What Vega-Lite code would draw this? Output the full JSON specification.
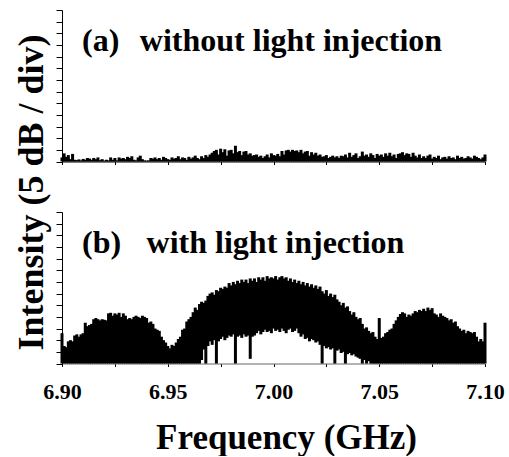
{
"$schema": "https://vega.github.io/schema/vega-lite/v6.json",
"background": "white",
"padding": {"left": 12, "top": 9, "right": 2, "bottom": 0},
"spacing": 50,
"bounds": "flush",
"config": {
 "view": {"stroke": null},
 "font": "Liberation Serif",
 "axis": {"grid": false, "domainColor": "black", "tickColor": "black", "labelColor": "black", "titleColor": "black", "labelFont": "Liberation Serif", "labelFontWeight": "bold", "labelFontSize": 22, "titleFont": "Liberation Serif", "titleFontWeight": "bold", "titleFontSize": 36}
},
"vconcat": [
 {
  "width": 423, "height": 151.5,
  "resolve": {"axis": {"x": "independent", "y": "independent"}},
  "layer": [
   {"data": {"name": "a"},
    "mark": {"type": "rule", "color": "black", "strokeWidth": 3},
    "encoding": {
     "x": {"field": "f", "type": "quantitative", "scale": {"domain": [6.9, 7.1], "nice": false, "zero": false},
      "axis": {"values": [6.9, 6.925, 6.95, 6.975, 7.0, 7.025, 7.05, 7.075, 7.1], "labels": false, "title": null, "tickSize": 3, "domainColor": "black"}},
     "y": {"field": "v", "type": "quantitative", "scale": {"domain": [0, 13], "nice": false},
      "axis": {"values": [0,1,2,3,4,5,6,7,8,9,10,11,12,13], "labels": false, "tickSize": 6, "title": "Intensity (5 dB / div)", "titleAngle": 270, "titleX": -20, "titleY": 182, "titleAlign": "center", "titleBaseline": "alphabetic"}},
     "y2": {"datum": 0}
    }},
   {"data": {"values": [{}]},
    "mark": {"type": "text", "text": "(a)", "align": "left", "baseline": "alphabetic", "font": "Liberation Serif", "fontWeight": "bold", "fontSize": 32, "color": "black"},
    "encoding": {"x": {"datum": 6.9095, "type": "quantitative", "axis": null}, "y": {"datum": 9.45, "type": "quantitative", "axis": null}}},
   {"data": {"values": [{}]},
    "mark": {"type": "text", "text": "without light injection", "align": "left", "baseline": "alphabetic", "font": "Liberation Serif", "fontWeight": "bold", "fontSize": 32, "color": "black"},
    "encoding": {"x": {"datum": 6.9368, "type": "quantitative", "axis": null}, "y": {"datum": 9.45, "type": "quantitative", "axis": null}}}
  ]
 },
 {
  "width": 423, "height": 151.5,
  "resolve": {"axis": {"x": "independent", "y": "independent"}},
  "layer": [
   {"data": {"name": "b"},
    "mark": {"type": "rule", "color": "black", "strokeWidth": 3},
    "encoding": {
     "x": {"field": "f", "type": "quantitative", "scale": {"domain": [6.9, 7.1], "nice": false, "zero": false},
      "axis": {"values": [6.9, 6.925, 6.95, 6.975, 7.0, 7.025, 7.05, 7.075, 7.1], "labelExpr": "abs(datum.value*20 - round(datum.value*20)) < 0.01 ? format(datum.value, '.2f') : ''", "labelFlush": false, "labelOverlap": false, "labelPadding": 15, "tickSize": 3, "domainColor": "#666666", "title": "Frequency (GHz)", "titleFontSize": 35, "titleX": 224, "titleY": 85, "titleAlign": "center", "titleBaseline": "alphabetic"}},
     "y": {"field": "v", "type": "quantitative", "scale": {"domain": [0, 13], "nice": false},
      "axis": {"values": [0,1,2,3,4,5,6,7,8,9,10,11,12,13], "labels": false, "tickSize": 6, "title": null}},
     "y2": {"field": "l"}
    }},
   {"data": {"values": [{}]},
    "mark": {"type": "text", "text": "(b)", "align": "left", "baseline": "alphabetic", "font": "Liberation Serif", "fontWeight": "bold", "fontSize": 32, "color": "black"},
    "encoding": {"x": {"datum": 6.9095, "type": "quantitative", "axis": null}, "y": {"datum": 9.45, "type": "quantitative", "axis": null}}},
   {"data": {"values": [{}]},
    "mark": {"type": "text", "text": "with light injection", "align": "left", "baseline": "alphabetic", "font": "Liberation Serif", "fontWeight": "bold", "fontSize": 32, "color": "black"},
    "encoding": {"x": {"datum": 6.9400, "type": "quantitative", "axis": null}, "y": {"datum": 9.45, "type": "quantitative", "axis": null}}}
  ]
 }
],
"datasets": {
 "a": [
{"f":6.900,"v":0.35},{"f":6.901,"v":0.7},{"f":6.902,"v":0.4},{"f":6.903,"v":0.55},{"f":6.904,"v":0.2},{"f":6.905,"v":0.65},{"f":6.906,"v":0.15},{"f":6.907,"v":0.12},{"f":6.908,"v":0.18},{"f":6.909,"v":0.1},
{"f":6.910,"v":0.22},{"f":6.911,"v":0.15},{"f":6.912,"v":0.3},{"f":6.913,"v":0.25},{"f":6.914,"v":0.15},{"f":6.915,"v":0.3},{"f":6.916,"v":0.2},{"f":6.917,"v":0.35},{"f":6.918,"v":0.12},{"f":6.919,"v":0.2},
{"f":6.920,"v":0.08},{"f":6.921,"v":0.15},{"f":6.922,"v":0.1},{"f":6.923,"v":0.35},{"f":6.924,"v":0.15},{"f":6.925,"v":0.3},{"f":6.926,"v":0.1},{"f":6.927,"v":0.35},{"f":6.928,"v":0.25},{"f":6.929,"v":0.3},
{"f":6.930,"v":0.2},{"f":6.931,"v":0.4},{"f":6.932,"v":0.3},{"f":6.933,"v":0.45},{"f":6.934,"v":0.15},{"f":6.935,"v":0.1},{"f":6.936,"v":0.35},{"f":6.937,"v":0.5},{"f":6.938,"v":0.2},{"f":6.939,"v":0.1},
{"f":6.940,"v":0.08},{"f":6.941,"v":0.1},{"f":6.942,"v":0.3},{"f":6.943,"v":0.25},{"f":6.944,"v":0.35},{"f":6.945,"v":0.2},{"f":6.946,"v":0.3},{"f":6.947,"v":0.15},{"f":6.948,"v":0.4},{"f":6.949,"v":0.3},
{"f":6.950,"v":0.2},{"f":6.951,"v":0.15},{"f":6.952,"v":0.35},{"f":6.953,"v":0.25},{"f":6.954,"v":0.3},{"f":6.955,"v":0.45},{"f":6.956,"v":0.2},{"f":6.957,"v":0.35},{"f":6.958,"v":0.3},{"f":6.959,"v":0.15},
{"f":6.960,"v":0.4},{"f":6.961,"v":0.25},{"f":6.962,"v":0.35},{"f":6.963,"v":0.5},{"f":6.964,"v":0.3},{"f":6.965,"v":0.2},{"f":6.966,"v":0.45},{"f":6.967,"v":0.3},{"f":6.968,"v":0.55},{"f":6.969,"v":0.4},
{"f":6.970,"v":0.6},{"f":6.971,"v":0.75},{"f":6.972,"v":0.9},{"f":6.973,"v":1.0},{"f":6.974,"v":0.6},{"f":6.975,"v":1.1},{"f":6.976,"v":0.8},{"f":6.977,"v":1.05},{"f":6.978,"v":0.5},{"f":6.979,"v":0.95},
{"f":6.980,"v":1.0},{"f":6.981,"v":0.7},{"f":6.982,"v":1.35},{"f":6.983,"v":0.8},{"f":6.984,"v":0.9},{"f":6.985,"v":0.55},{"f":6.986,"v":0.85},{"f":6.987,"v":0.9},{"f":6.988,"v":0.6},{"f":6.989,"v":0.7},
{"f":6.990,"v":0.5},{"f":6.991,"v":0.55},{"f":6.992,"v":0.6},{"f":6.993,"v":0.4},{"f":6.994,"v":0.5},{"f":6.995,"v":0.3},{"f":6.996,"v":0.45},{"f":6.997,"v":0.6},{"f":6.998,"v":0.35},{"f":6.999,"v":0.7},
{"f":7.000,"v":0.55},{"f":7.001,"v":0.5},{"f":7.002,"v":0.65},{"f":7.003,"v":0.45},{"f":7.004,"v":0.9},{"f":7.005,"v":0.6},{"f":7.006,"v":0.95},{"f":7.007,"v":1.0},{"f":7.008,"v":0.85},{"f":7.009,"v":1.0},
{"f":7.010,"v":0.9},{"f":7.011,"v":0.95},{"f":7.012,"v":0.8},{"f":7.013,"v":1.0},{"f":7.014,"v":0.7},{"f":7.015,"v":0.85},{"f":7.016,"v":0.9},{"f":7.017,"v":0.5},{"f":7.018,"v":0.8},{"f":7.019,"v":0.6},
{"f":7.020,"v":0.75},{"f":7.021,"v":0.5},{"f":7.022,"v":0.6},{"f":7.023,"v":0.4},{"f":7.024,"v":0.45},{"f":7.025,"v":0.55},{"f":7.026,"v":0.3},{"f":7.027,"v":0.4},{"f":7.028,"v":0.5},{"f":7.029,"v":0.35},
{"f":7.030,"v":0.45},{"f":7.031,"v":0.3},{"f":7.032,"v":0.5},{"f":7.033,"v":0.45},{"f":7.034,"v":0.6},{"f":7.035,"v":0.35},{"f":7.036,"v":0.75},{"f":7.037,"v":0.4},{"f":7.038,"v":0.55},{"f":7.039,"v":0.7},
{"f":7.040,"v":0.3},{"f":7.041,"v":0.45},{"f":7.042,"v":0.85},{"f":7.043,"v":0.5},{"f":7.044,"v":0.6},{"f":7.045,"v":0.4},{"f":7.046,"v":0.7},{"f":7.047,"v":0.55},{"f":7.048,"v":0.3},{"f":7.049,"v":0.65},
{"f":7.050,"v":0.5},{"f":7.051,"v":0.6},{"f":7.052,"v":0.4},{"f":7.053,"v":0.7},{"f":7.054,"v":0.5},{"f":7.055,"v":0.75},{"f":7.056,"v":0.45},{"f":7.057,"v":0.6},{"f":7.058,"v":0.3},{"f":7.059,"v":0.65},
{"f":7.060,"v":0.7},{"f":7.061,"v":0.8},{"f":7.062,"v":0.55},{"f":7.063,"v":0.7},{"f":7.064,"v":0.65},{"f":7.065,"v":0.4},{"f":7.066,"v":0.75},{"f":7.067,"v":0.5},{"f":7.068,"v":0.35},{"f":7.069,"v":0.6},
{"f":7.070,"v":0.3},{"f":7.071,"v":0.45},{"f":7.072,"v":0.3},{"f":7.073,"v":0.5},{"f":7.074,"v":0.6},{"f":7.075,"v":0.25},{"f":7.076,"v":0.4},{"f":7.077,"v":0.3},{"f":7.078,"v":0.5},{"f":7.079,"v":0.2},
{"f":7.080,"v":0.35},{"f":7.081,"v":0.4},{"f":7.082,"v":0.25},{"f":7.083,"v":0.45},{"f":7.084,"v":0.3},{"f":7.085,"v":0.35},{"f":7.086,"v":0.2},{"f":7.087,"v":0.5},{"f":7.088,"v":0.3},{"f":7.089,"v":0.4},
{"f":7.090,"v":0.25},{"f":7.091,"v":0.3},{"f":7.092,"v":0.45},{"f":7.093,"v":0.35},{"f":7.094,"v":0.25},{"f":7.095,"v":0.5},{"f":7.096,"v":0.4},{"f":7.097,"v":0.3},{"f":7.098,"v":0.2},{"f":7.099,"v":0.35},
{"f":7.100,"v":0.6}
 ],
 "b": [
{"f":6.900,"v":2.6,"l":0},{"f":6.901,"v":1.5,"l":0},{"f":6.902,"v":1.4,"l":0},{"f":6.903,"v":1.9,"l":0},{"f":6.904,"v":2.0,"l":0},{"f":6.905,"v":1.9,"l":0},{"f":6.906,"v":2.4,"l":0},{"f":6.907,"v":2.5,"l":0},{"f":6.908,"v":2.3,"l":0},{"f":6.909,"v":2.5,"l":0},
{"f":6.910,"v":2.6,"l":0},{"f":6.911,"v":3.5,"l":0},{"f":6.912,"v":3.2,"l":0},{"f":6.913,"v":3.3,"l":0},{"f":6.914,"v":3.4,"l":0},{"f":6.915,"v":3.8,"l":0},{"f":6.916,"v":3.9,"l":0},{"f":6.917,"v":3.8,"l":0},{"f":6.918,"v":3.7,"l":0},{"f":6.919,"v":3.8,"l":0},
{"f":6.920,"v":3.75,"l":0},{"f":6.921,"v":3.7,"l":0},{"f":6.922,"v":4.3,"l":0},{"f":6.923,"v":4.35,"l":0},{"f":6.924,"v":4.1,"l":0},{"f":6.925,"v":4.3,"l":0},{"f":6.926,"v":4.2,"l":0},{"f":6.927,"v":4.35,"l":0},{"f":6.928,"v":4.0,"l":0},{"f":6.929,"v":4.3,"l":0},
{"f":6.930,"v":4.1,"l":0},{"f":6.931,"v":3.8,"l":0},{"f":6.932,"v":3.9,"l":0},{"f":6.933,"v":3.8,"l":0},{"f":6.934,"v":4.0,"l":0},{"f":6.935,"v":4.1,"l":0},{"f":6.936,"v":4.0,"l":0},{"f":6.937,"v":3.9,"l":0},{"f":6.938,"v":4.1,"l":0},{"f":6.939,"v":4.0,"l":0},
{"f":6.940,"v":3.9,"l":0},{"f":6.941,"v":3.5,"l":0},{"f":6.942,"v":3.6,"l":0},{"f":6.943,"v":3.4,"l":0},{"f":6.944,"v":3.0,"l":0},{"f":6.945,"v":2.9,"l":0},{"f":6.946,"v":2.8,"l":0},{"f":6.947,"v":2.3,"l":0},{"f":6.948,"v":2.0,"l":0},{"f":6.949,"v":1.8,"l":0},
{"f":6.950,"v":1.5,"l":0},{"f":6.951,"v":1.3,"l":0},{"f":6.952,"v":1.6,"l":0},{"f":6.953,"v":1.5,"l":0},{"f":6.954,"v":1.8,"l":0},{"f":6.955,"v":2.1,"l":0},{"f":6.956,"v":2.3,"l":0},{"f":6.957,"v":2.9,"l":0},{"f":6.958,"v":3.0,"l":0},{"f":6.959,"v":3.6,"l":0},
{"f":6.960,"v":3.8,"l":0},{"f":6.961,"v":4.0,"l":0},{"f":6.962,"v":4.4,"l":0},{"f":6.963,"v":4.8,"l":0},{"f":6.964,"v":4.6,"l":0},{"f":6.965,"v":5.1,"l":0},{"f":6.966,"v":5.3,"l":0.3},{"f":6.967,"v":5.2,"l":1.2},{"f":6.968,"v":5.4,"l":0},{"f":6.969,"v":5.8,"l":1.5},
{"f":6.970,"v":6.0,"l":1.9},{"f":6.971,"v":6.1,"l":1.6},{"f":6.972,"v":5.9,"l":2.0},{"f":6.973,"v":6.3,"l":0},{"f":6.974,"v":6.2,"l":1.9},{"f":6.975,"v":6.5,"l":2.1},{"f":6.976,"v":6.4,"l":2.3},{"f":6.977,"v":6.6,"l":2.0},{"f":6.978,"v":6.5,"l":2.2},{"f":6.979,"v":6.9,"l":2.4},
{"f":6.980,"v":6.7,"l":2.3},{"f":6.981,"v":7.0,"l":2.5},{"f":6.982,"v":6.8,"l":0},{"f":6.983,"v":7.1,"l":2.3},{"f":6.984,"v":6.9,"l":2.4},{"f":6.985,"v":7.2,"l":2.2},{"f":6.986,"v":7.0,"l":2.5},{"f":6.987,"v":7.2,"l":2.3},{"f":6.988,"v":6.9,"l":2.4},{"f":6.989,"v":7.3,"l":0.4},
{"f":6.990,"v":7.1,"l":2.3},{"f":6.991,"v":7.3,"l":2.4},{"f":6.992,"v":7.0,"l":2.6},{"f":6.993,"v":7.4,"l":2.8},{"f":6.994,"v":7.2,"l":2.5},{"f":6.995,"v":7.4,"l":2.7},{"f":6.996,"v":7.1,"l":2.9},{"f":6.997,"v":7.5,"l":2.7},{"f":6.998,"v":7.3,"l":2.8},{"f":6.999,"v":7.4,"l":2.6},
{"f":7.000,"v":7.3,"l":3.0},{"f":7.001,"v":7.5,"l":2.8},{"f":7.002,"v":7.2,"l":2.9},{"f":7.003,"v":7.4,"l":2.7},{"f":7.004,"v":7.5,"l":3.0},{"f":7.005,"v":7.3,"l":2.8},{"f":7.006,"v":7.4,"l":2.6},{"f":7.007,"v":7.1,"l":2.9},{"f":7.008,"v":7.3,"l":3.0},{"f":7.009,"v":7.0,"l":2.7},
{"f":7.010,"v":7.2,"l":2.8},{"f":7.011,"v":6.9,"l":3.0},{"f":7.012,"v":7.1,"l":2.6},{"f":7.013,"v":6.8,"l":2.3},{"f":7.014,"v":7.0,"l":2.5},{"f":7.015,"v":6.7,"l":2.1},{"f":7.016,"v":6.9,"l":2.2},{"f":7.017,"v":6.6,"l":1.9},{"f":7.018,"v":6.8,"l":2.1},{"f":7.019,"v":6.5,"l":2.0},
{"f":7.020,"v":6.7,"l":1.8},{"f":7.021,"v":6.4,"l":1.9},{"f":7.022,"v":6.6,"l":1.6},{"f":7.023,"v":6.2,"l":0},{"f":7.024,"v":6.0,"l":1.5},{"f":7.025,"v":6.3,"l":1.3},{"f":7.026,"v":5.8,"l":1.4},{"f":7.027,"v":6.0,"l":1.2},{"f":7.028,"v":5.7,"l":1.3},{"f":7.029,"v":5.9,"l":0},
{"f":7.030,"v":5.5,"l":1.1},{"f":7.031,"v":5.3,"l":1.2},{"f":7.032,"v":5.0,"l":0.9},{"f":7.033,"v":5.2,"l":1.0},{"f":7.034,"v":4.8,"l":0},{"f":7.035,"v":4.9,"l":0.8},{"f":7.036,"v":4.5,"l":0.9},{"f":7.037,"v":4.2,"l":0.7},{"f":7.038,"v":4.4,"l":0.8},{"f":7.039,"v":4.0,"l":0.6},
{"f":7.040,"v":3.8,"l":0.5},{"f":7.041,"v":3.9,"l":0.4},{"f":7.042,"v":3.4,"l":0},{"f":7.043,"v":3.0,"l":0.3},{"f":7.044,"v":3.1,"l":0},{"f":7.045,"v":2.8,"l":0.2},{"f":7.046,"v":2.6,"l":0},{"f":7.047,"v":2.7,"l":0},{"f":7.048,"v":2.3,"l":0},{"f":7.049,"v":2.1,"l":0},
{"f":7.050,"v":3.9,"l":0},{"f":7.051,"v":2.2,"l":0},{"f":7.052,"v":2.3,"l":0},{"f":7.053,"v":2.6,"l":0},{"f":7.054,"v":2.7,"l":0},{"f":7.055,"v":2.9,"l":0},{"f":7.056,"v":3.0,"l":0},{"f":7.057,"v":3.4,"l":0},{"f":7.058,"v":3.7,"l":0},{"f":7.059,"v":4.0,"l":0},
{"f":7.060,"v":4.25,"l":0},{"f":7.061,"v":4.4,"l":0},{"f":7.062,"v":4.3,"l":0},{"f":7.063,"v":4.0,"l":0},{"f":7.064,"v":4.2,"l":0},{"f":7.065,"v":4.1,"l":0},{"f":7.066,"v":4.3,"l":0},{"f":7.067,"v":4.5,"l":0},{"f":7.068,"v":4.4,"l":0},{"f":7.069,"v":4.6,"l":0},
{"f":7.070,"v":4.5,"l":0},{"f":7.071,"v":4.7,"l":0},{"f":7.072,"v":4.5,"l":0},{"f":7.073,"v":4.8,"l":0},{"f":7.074,"v":4.6,"l":0},{"f":7.075,"v":4.75,"l":0},{"f":7.076,"v":4.3,"l":0},{"f":7.077,"v":4.2,"l":0},{"f":7.078,"v":4.0,"l":0},{"f":7.079,"v":4.3,"l":0},
{"f":7.080,"v":4.1,"l":0},{"f":7.081,"v":4.0,"l":0},{"f":7.082,"v":3.9,"l":0},{"f":7.083,"v":3.7,"l":0},{"f":7.084,"v":3.8,"l":0},{"f":7.085,"v":3.5,"l":0},{"f":7.086,"v":3.6,"l":0},{"f":7.087,"v":3.2,"l":0},{"f":7.088,"v":3.0,"l":0},{"f":7.089,"v":2.8,"l":0},
{"f":7.090,"v":2.9,"l":0},{"f":7.091,"v":2.6,"l":0},{"f":7.092,"v":2.8,"l":0},{"f":7.093,"v":2.7,"l":0},{"f":7.094,"v":2.6,"l":0},{"f":7.095,"v":2.7,"l":0},{"f":7.096,"v":2.3,"l":0},{"f":7.097,"v":1.9,"l":0},{"f":7.098,"v":2.1,"l":0},{"f":7.099,"v":1.9,"l":0},
{"f":7.100,"v":3.5,"l":0}
 ]
}
}
